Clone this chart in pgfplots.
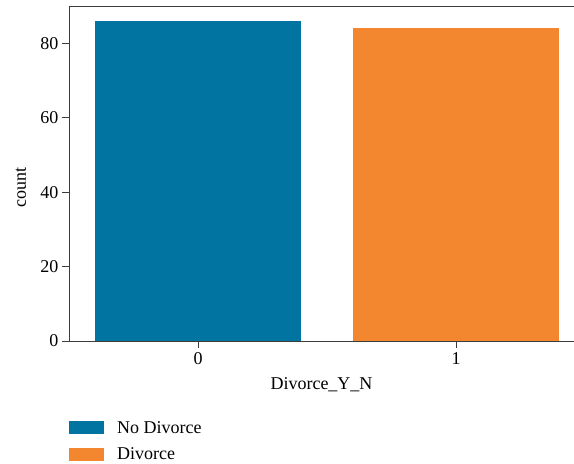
\documentclass[border=0pt]{standalone}
\usepackage{fontspec}
\setmainfont{Liberation Serif}
\usepackage{pgfplots}
\pgfplotsset{compat=1.18}
\definecolor{cblue}{RGB}{2,116,162}
\definecolor{corange}{RGB}{242,135,48}
\definecolor{spine}{RGB}{60,60,60}
\newcommand\cf{\fontsize{18}{21}\selectfont}
\begin{document}
\begin{tikzpicture}
\begin{axis}[
  name=ax,
  scale only axis,
  width=505pt, height=335pt,
  xmin=-0.5, xmax=1.457,
  ymin=0, ymax=90,
  axis x line*=box, axis y line*=left,
  xtick pos=bottom, ytick pos=left,
  xtick={0,1}, ytick={0,20,40,60,80},
  tick align=outside,
  major tick length=7pt,
  every tick/.style={spine, line width=0.9pt},
  axis line style={spine, line width=0.9pt},
  /pgf/number format/assume math mode=true,
  ticklabel style={font=\cf},
  xticklabel style={yshift=-1pt},
  xlabel={Divorce\_Y\_N}, ylabel={count},
  every axis x label/.style={at={([yshift=-44pt]axis description cs:0.5,0)}, anchor=center, font=\cf},
  every axis y label/.style={at={([xshift=-48pt]axis description cs:0,0.457)}, anchor=center, rotate=90, font=\cf},
  ybar, bar width=0.8, bar shift=0pt,
  legend style={at={([yshift=-80pt]axis description cs:0,0)}, anchor=north west, draw=none, fill=none, inner sep=0pt, row sep=13pt, font=\cf, nodes={inner sep=0pt, anchor=west},
    /tikz/every odd column/.append style={column sep=13pt}},
  legend cell align=left,
  legend image code/.code={\fill[#1] (0pt,-6.5pt) rectangle (35pt,6.5pt);},
]
\addplot[fill=cblue, draw=none] coordinates {(0,86)};
\addlegendentry{No Divorce}
\addplot[fill=corange, draw=none] coordinates {(1,84)};
\addlegendentry{Divorce}
\end{axis}
\pgfresetboundingbox
\path[use as bounding box] ([xshift=-69pt,yshift=-123pt]ax.south west) rectangle ([yshift=6pt]ax.north east);
\end{tikzpicture}
\end{document}
